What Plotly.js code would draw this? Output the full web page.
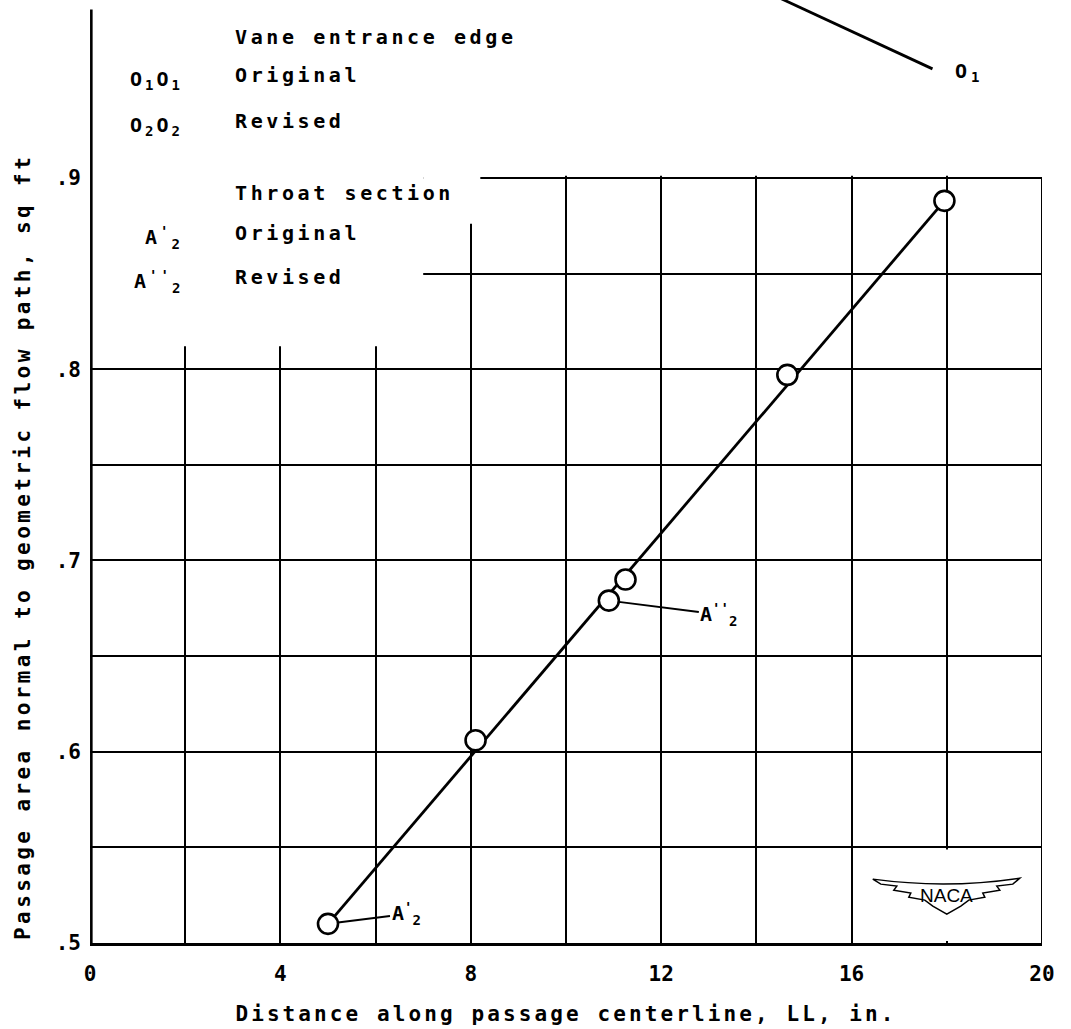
<!DOCTYPE html>
<html>
<head>
<meta charset="utf-8">
<script src="https://cdn.plot.ly/plotly-3.0.1.min.js"></script>
<style>html,body{margin:0;padding:0;background:#fff;}</style>
</head>
<body>
<div id="chart" style="width:1071px;height:1029px;"></div>
<script>
// ---- data ----
const distance = [5.0, 8.1, 10.9, 11.25, 14.65, 17.95];
const area     = [0.510, 0.606, 0.679, 0.690, 0.797, 0.888];
const fitX = [5.0, 17.95];
const fitY = [0.510, 0.888];
const o1X = [14.45, 17.7];
const o1Y = [0.9945, 0.957];
const xTickVals = [0, 4, 8, 12, 16, 20];
const xTickText = ['0', '4', '8', '12', '16', '20'];
const xMinorVals = [2, 6, 10, 14, 18];
const yTickVals = [0.5, 0.6, 0.7, 0.8, 0.9];
const yTickText = ['.5', '.6', '.7', '.8', '.9'];
const yMinorVals = [0.55, 0.65, 0.75, 0.85];
const xTitle = 'Distance along passage centerline, LL, in.';
const yTitle = 'Passage area normal to geometric flow path, sq ft';
const legendLines = ['Vane entrance edge', 'Original', 'Revised', 'Throat section', 'Original', 'Revised'];
const legendSymbols = ['O<sub>1</sub>O<sub>1</sub>', 'O<sub>2</sub>O<sub>2</sub>', 'A<sup>\'</sup><sub>2</sub>', 'A<sup>\'\'</sup><sub>2</sub>'];

// ---- style ----
const FONT = 'DejaVu Sans Mono';
const sp = (t, s) => '<span style="letter-spacing:' + s + 'px">' + t + '</span>';
const txtFont = (size) => ({family: FONT, size: size, color: 'black', weight: 'bold'});

const traces = [
  {x: fitX, y: fitY, mode: 'lines', line: {color: 'black', width: 2.8}, hoverinfo: 'skip'},
  {x: o1X, y: o1Y, mode: 'lines', line: {color: 'black', width: 2.8}, hoverinfo: 'skip'},
  {x: distance, y: area, mode: 'markers',
   marker: {symbol: 'circle', size: 20, color: 'white', line: {color: 'black', width: 2.6}}}
];

// NACA emblem outline (decoration), relative pixel offsets around an anchor
const naX = 18.0, naY = 0.5245, pxX = 47.6, pxY = 1912.5;
const P = (dx, dy) => (naX + dx / pxX).toFixed(4) + ',' + (naY - dy / pxY).toFixed(5);
const wing = 'M ' + P(-74, -17) + ' Q ' + P(0, -7) + ' ' + P(73, -18) +
  ' L ' + P(66, -12) + ' L ' + P(50, -10) + ' L ' + P(53, -6) + ' L ' + P(36, -3) +
  ' L ' + P(38, 1) + ' L ' + P(22, 4) + ' L ' + P(14, 10) + ' L ' + P(0, 18) +
  ' L ' + P(-14, 10) + ' L ' + P(-22, 4) + ' L ' + P(-38, 1) + ' L ' + P(-36, -3) +
  ' L ' + P(-53, -6) + ' L ' + P(-50, -10) + ' L ' + P(-66, -12) + ' Z';

const mask = (x0, x1, y0, y1) => ({type: 'rect', xref: 'x', yref: 'y', x0, x1, y0, y1,
  fillcolor: 'white', line: {width: 0}, layer: 'between'});

const shapes = [
  mask(-1, 21, 0.9011, 1.1),
  mask(-1, 7.0, 0.812, 0.95),
  mask(7.0, 8.2, 0.876, 0.95),
  mask(16.03, 19.97, 0.5011, 0.5489),
  {type: 'line', xref: 'x', yref: 'y', x0: 20, x1: 20, y0: 0.5, y1: 0.9, line: {color: 'black', width: 2}, layer: 'between'},
  {type: 'line', xref: 'x', yref: 'y', x0: 0.028, x1: 0.028, y0: 0.499, y1: 0.988, line: {color: 'black', width: 2.6}, layer: 'above'},
  {type: 'path', xref: 'x', yref: 'y', path: wing, line: {color: 'black', width: 1.5}, fillcolor: 'white', layer: 'between'}
];

const legX = 3.0, symX = 2.0;
const legY = [0.9737, 0.954, 0.930, 0.892, 0.871, 0.848];
const symY = [0.951, 0.927, 0.869, 0.846];

const annotations = [];
legendLines.forEach((t, i) => annotations.push({
  xref: 'x', yref: 'y', x: legX, y: legY[i], xanchor: 'left', yanchor: 'middle',
  text: sp(t, 3.6), showarrow: false, font: txtFont(20)
}));
legendSymbols.forEach((t, i) => annotations.push({
  xref: 'x', yref: 'y', x: symX, y: symY[i], xanchor: 'right', yanchor: 'middle',
  text: sp(t, 3), showarrow: false, font: txtFont(20)
}));
annotations.push(
  {xref: 'x', yref: 'y', x: distance[0], y: area[0], text: 'A<sup>\'</sup><sub>2</sub>',
   showarrow: true, arrowhead: 0, arrowwidth: 2, arrowcolor: 'black', ax: 78, ay: -10, standoff: 10,
   font: txtFont(20)},
  {xref: 'x', yref: 'y', x: distance[2], y: area[2], text: 'A<sup>\'\'</sup><sub>2</sub>',
   showarrow: true, arrowhead: 0, arrowwidth: 2, arrowcolor: 'black', ax: 110, ay: 14, standoff: 10,
   font: txtFont(20)},
  {xref: 'x', yref: 'y', x: 18.12, y: 0.9555, xanchor: 'left', yanchor: 'middle',
   text: sp('O<sub>1</sub>', 4), showarrow: false, font: txtFont(20)},
  {xref: 'x', yref: 'y', x: naX, y: naY + 1 / pxY, text: 'NACA', showarrow: false,
   font: {family: 'Liberation Sans', size: 19, color: 'black'}},
  {xref: 'paper', yref: 'paper', x: -0.0704, y: 0.42, xanchor: 'center', yanchor: 'middle',
   textangle: -90, text: sp(yTitle, 3.4), showarrow: false, font: txtFont(21)}
);

const gridStyle = {showgrid: true, gridcolor: 'black', gridwidth: 2, ticks: ''};

const axisCommon = {
  showgrid: true, gridcolor: 'black', gridwidth: 2,
  linecolor: 'black', linewidth: 2.6,
  zeroline: false, ticks: '', fixedrange: true,
  tickfont: txtFont(21)
};

const layout = {
  width: 1071, height: 1029,
  margin: {l: 90, r: 29, t: 0, b: 86, pad: 0},
  paper_bgcolor: 'white', plot_bgcolor: 'white',
  showlegend: false,
  font: {family: FONT, color: 'black'},
  xaxis: Object.assign({}, axisCommon, {
    showline: true,
    range: [0, 20], tickmode: 'array', tickvals: xTickVals, ticktext: xTickText,
    minor: Object.assign({tickmode: 'array', tickvals: xMinorVals}, gridStyle),
    ticklabelstandoff: 10,
    title: {text: sp(xTitle, 3.1), font: txtFont(21), standoff: 22}
  }),
  yaxis: Object.assign({}, axisCommon, {
    showline: false,
    range: [0.5, 0.993], tickmode: 'array', tickvals: yTickVals, ticktext: yTickText,
    minor: Object.assign({tickmode: 'array', tickvals: yMinorVals}, gridStyle),
    ticklabelstandoff: 8
  }),
  shapes: shapes,
  annotations: annotations
};

Plotly.newPlot('chart', traces, layout, {displayModeBar: false, staticPlot: true});
</script>
</body>
</html>
